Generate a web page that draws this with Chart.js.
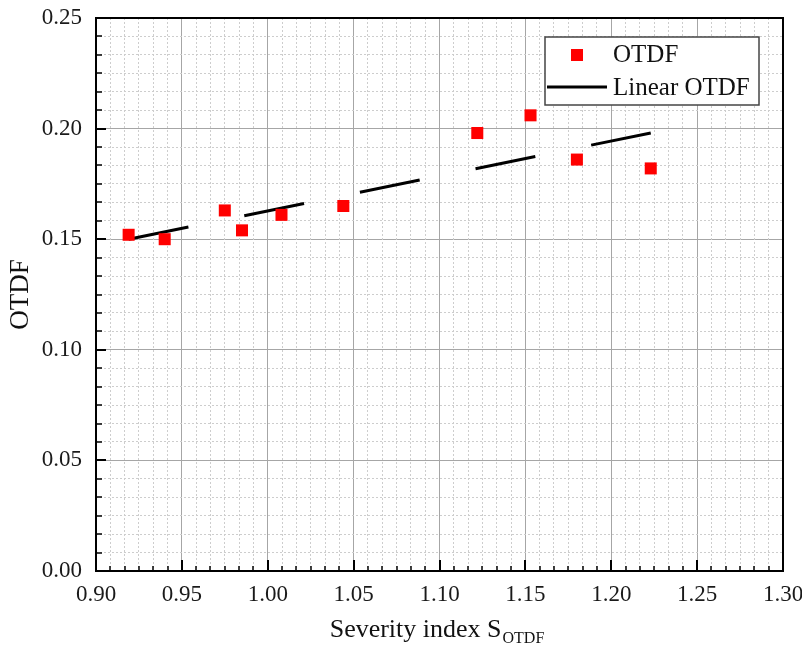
<!DOCTYPE html>
<html>
<head>
<meta charset="utf-8">
<title>OTDF vs severity index</title>
<script src="https://cdn.jsdelivr.net/npm/chart.js@4.4.0/dist/chart.umd.min.js"></script>
<style>
html, body { margin: 0; padding: 0; background: #fff; }
#chartBox { width: 802px; height: 647px; }
</style>
</head>
<body>
<div id="chartBox"><canvas id="otdfChart" width="802" height="647"></canvas></div>
<script>
var severityIndex = [0.919, 0.940, 0.975, 0.985, 1.008, 1.044, 1.122, 1.153, 1.180, 1.223];
var otdfValues = [0.152, 0.150, 0.163, 0.154, 0.161, 0.165, 0.198, 0.206, 0.186, 0.182];

// Linear fit, start and end
var fitX = [0.919, 1.223];
var fitY = [0.150, 0.198];

// Axis ticks
var xTicks = [0.90, 0.95, 1.00, 1.05, 1.10, 1.15, 1.20, 1.25, 1.30];
var yTicks = [0.00, 0.05, 0.10, 0.15, 0.20, 0.25];
var minorSteps = 6; // minor grid splits each major step in 6

var serif = '"Liberation Serif", "Times New Roman", serif';

function minorTicks(major) {
    var out = [];
    for (var i = 0; i < major.length - 1; i++) {
        var step = (major[i + 1] - major[i]) / minorSteps;
        for (var k = 1; k < minorSteps; k++) out.push({ value: major[i] + k * step });
    }
    return out;
}

var scatterPoints = severityIndex.map(function (x, i) { return { x: x, y: otdfValues[i] }; });
var fitPoints = fitX.map(function (x, i) { return { x: x, y: fitY[i] }; });

// Extra drawing: inward ticks, frame, legend, x title with subscript
var figureExtras = {
    id: 'figureExtras',
    afterDraw: function (chart) {
        var ctx = chart.ctx;
        var area = chart.chartArea;
        var xs = chart.scales.x, ys = chart.scales.y;
        var xm = chart.scales.xMinor, ym = chart.scales.yMinor;

        function seg(x1, y1, x2, y2) {
            ctx.beginPath();
            ctx.moveTo(x1, y1);
            ctx.lineTo(x2, y2);
            ctx.stroke();
        }

        ctx.save();
        ctx.strokeStyle = '#000';
        ctx.lineWidth = 1.5;
        xm.ticks.forEach(function (t) {
            var px = Math.round(xm.getPixelForValue(t.value));
            seg(px, area.bottom, px, area.bottom - 5);
        });
        ym.ticks.forEach(function (t) {
            var py = Math.round(ym.getPixelForValue(t.value));
            seg(area.left, py, area.left + 6, py);
        });
        ctx.lineWidth = 2;
        xs.ticks.forEach(function (t) {
            var px = Math.round(xs.getPixelForValue(t.value));
            seg(px, area.bottom, px, area.bottom - 11);
        });
        ys.ticks.forEach(function (t) {
            var py = Math.round(ys.getPixelForValue(t.value));
            seg(area.left, py, area.left + 10, py);
        });

        // frame
        ctx.lineWidth = 2;
        ctx.strokeRect(area.left, area.top, area.right - area.left, area.bottom - area.top);

        // legend box
        var ds = chart.data.datasets;
        var bx = area.right - 238, by = area.top + 19;
        ctx.fillStyle = '#fff';
        ctx.fillRect(bx, by, 214, 68);
        ctx.strokeStyle = '#444';
        ctx.lineWidth = 1.5;
        ctx.strokeRect(bx, by, 214, 68);

        ctx.fillStyle = ds[0].backgroundColor;
        ctx.fillRect(bx + 26, by + 12, 12, 12);
        ctx.strokeStyle = ds[1].borderColor;
        ctx.lineWidth = 3;
        seg(bx + 2, by + 50, bx + 62, by + 50);

        ctx.fillStyle = '#111';
        ctx.font = '25px ' + serif;
        ctx.textAlign = 'left';
        ctx.textBaseline = 'middle';
        ctx.fillText(ds[0].label, bx + 68, by + 18);
        ctx.fillText(ds[1].label, bx + 68, by + 51);

        // x axis title: Severity index S with OTDF subscript
        var mainText = 'Severity index S', subText = 'OTDF';
        ctx.font = '26px ' + serif;
        var w1 = ctx.measureText(mainText).width;
        ctx.font = '16px ' + serif;
        var w2 = ctx.measureText(subText).width;
        var startX = (area.left + area.right) / 2 - (w1 + w2) / 2 - 3;
        ctx.textBaseline = 'alphabetic';
        ctx.font = '26px ' + serif;
        ctx.fillText(mainText, startX, 637);
        ctx.font = '16px ' + serif;
        ctx.fillText(subText, startX + w1 + 1, 643);
        ctx.restore();
    }
};

var ctx = document.getElementById('otdfChart').getContext('2d');
var otdfChart = new Chart(ctx, {
    type: 'scatter',
    data: {
        datasets: [{
            label: 'OTDF',
            data: scatterPoints,
            pointStyle: 'rect',
            pointRadius: 8.5,
            pointHoverRadius: 8.5,
            backgroundColor: '#ff0000',
            borderColor: '#ff0000',
            borderWidth: 0
        }, {
            label: 'Linear OTDF',
            data: fitPoints,
            showLine: true,
            borderColor: '#000',
            backgroundColor: '#000',
            borderWidth: 3,
            borderDash: [61, 57],
            borderCapStyle: 'butt',
            pointRadius: 0,
            pointHoverRadius: 0
        }]
    },
    options: {
        responsive: false,
        animation: false,
        devicePixelRatio: 1,
        layout: { padding: { left: 0, top: 18, right: 19, bottom: 0 } },
        plugins: {
            legend: { display: false },
            tooltip: { enabled: false }
        },
        scales: {
            x: {
                type: 'linear',
                position: 'bottom',
                min: 0.9,
                max: 1.3,
                afterBuildTicks: function (scale) {
                    scale.ticks = xTicks.map(function (v) { return { value: v }; });
                },
                afterFit: function (scale) {
                    scale.height = 76;
                    scale.paddingLeft = 0;
                    scale.paddingRight = 0;
                },
                ticks: {
                    padding: 10,
                    color: '#1a1a1a',
                    maxRotation: 0,
                    font: { family: serif, size: 23 },
                    callback: function (v) { return v.toFixed(2); }
                },
                grid: { color: '#a6a6a6', lineWidth: 1, drawTicks: false, tickLength: 0 },
                border: { display: true, color: '#000', width: 2 },
                title: { display: false }
            },
            y: {
                type: 'linear',
                position: 'left',
                min: 0,
                max: 0.25,
                afterBuildTicks: function (scale) {
                    scale.ticks = yTicks.map(function (v) { return { value: v }; });
                },
                afterFit: function (scale) {
                    scale.width = 96;
                    scale.paddingTop = 0;
                    scale.paddingBottom = 0;
                },
                ticks: {
                    padding: 14,
                    color: '#1a1a1a',
                    font: { family: serif, size: 23 },
                    callback: function (v) { return v.toFixed(2); }
                },
                grid: { color: '#a6a6a6', lineWidth: 1, drawTicks: false, tickLength: 0 },
                border: { display: true, color: '#000', width: 2 },
                title: {
                    display: true,
                    text: 'OTDF',
                    color: '#111',
                    padding: { top: 7, bottom: 0 },
                    font: { family: serif, size: 27, lineHeight: 1 }
                }
            },
            xMinor: {
                type: 'linear',
                position: 'bottom',
                min: 0.9,
                max: 1.3,
                afterBuildTicks: function (scale) { scale.ticks = minorTicks(xTicks); },
                afterFit: function (scale) { scale.height = 0; },
                ticks: { display: false },
                grid: { color: '#cdcdcd', lineWidth: 1, drawTicks: false, tickLength: 0, z: -1 },
                border: { display: false, dash: [2, 2] }
            },
            yMinor: {
                type: 'linear',
                position: 'left',
                min: 0,
                max: 0.25,
                afterBuildTicks: function (scale) { scale.ticks = minorTicks(yTicks); },
                afterFit: function (scale) { scale.width = 0; },
                ticks: { display: false },
                grid: { color: '#cdcdcd', lineWidth: 1, drawTicks: false, tickLength: 0, z: -1 },
                border: { display: false, dash: [2, 2] }
            }
        }
    },
    plugins: [figureExtras]
});
</script>
</body>
</html>
